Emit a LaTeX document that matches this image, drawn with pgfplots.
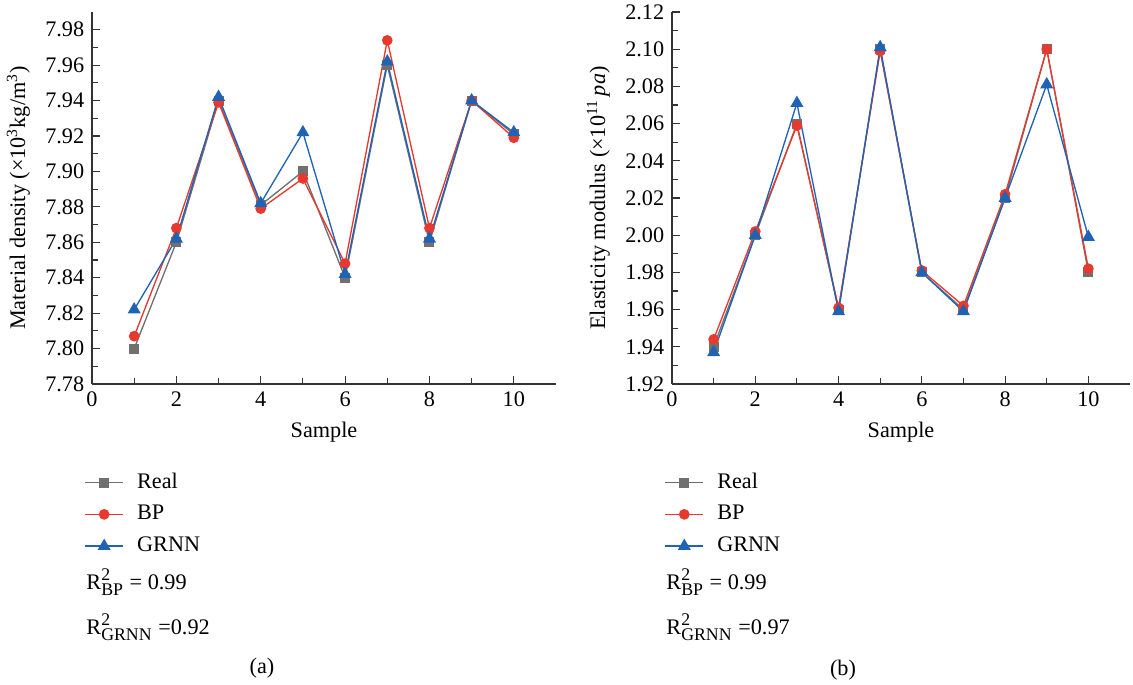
\documentclass[border=0pt]{standalone}
\usepackage{fontspec}
\setmainfont{Liberation Serif}
\usepackage{pgfplots}
\pgfplotsset{compat=1.18}

\definecolor{realc}{HTML}{707070}
\definecolor{bpc}{HTML}{E8392F}
\definecolor{grnnc}{HTML}{1F63B5}

\newlength\pu
\setlength\pu{0.45pt}

\newcommand{\rsq}[1]{$\mbox{R}^{\mbox{\footnotesize 2}}_{\mbox{\footnotesize #1}}$}

\pgfplotsset{
  panel/.style={
    scale only axis, height=167.4pt,
    xmin=0, xmax=11, xtick={0,2,4,6,8,10}, minor x tick num=1, minor y tick num=1,
    axis x line*=bottom, axis y line*=left,
    axis line style={-, black!80, line width=0.6pt},
    tick align=inside, major tick length=3.5pt, minor tick length=2.5pt,
    tick style={black!80, line width=0.5pt},
    /pgf/number format/assume math mode=true,
    yticklabel style={/pgf/number format/.cd, fixed, fixed zerofill, precision=2},
    xlabel=Sample,
    legend cell align=left,
    legend style={draw=none, fill=none, inner sep=0pt, anchor=north west,
      at={(-0.017,-0.225)}, row sep=1.3pt, column sep=4pt,
      nodes={text height=7pt, text depth=2pt}},
  },
  realp/.style={color=realc, line width=0.6pt, mark=square*, mark size=1.95pt},
  bpp/.style={color=bpc, line width=0.6pt, mark=*, mark size=2.1pt},
  grnnp/.style={color=grnnc, line width=0.6pt, mark=triangle*, mark size=2.8pt},
}

\begin{document}
\begin{tikzpicture}
\path[use as bounding box] (0,0) rectangle ({1133*\pu},{684*\pu});

% (a) material density
\begin{axis}[panel, width={464*\pu},
  at={({92*\pu},{(684-384)*\pu})}, anchor=south west,
  ymin=7.78, ymax=7.99,
  ytick={7.78,7.80,7.82,7.84,7.86,7.88,7.90,7.92,7.94,7.96,7.98},
  ylabel={Material density (×10\textsuperscript{3}kg/m\textsuperscript{3})}]
\addplot[realp] coordinates {(1,7.800) (2,7.860) (3,7.940) (4,7.881) (5,7.900) (6,7.840) (7,7.960) (8,7.860) (9,7.940) (10,7.921)};
\addlegendentry{Real}
\addplot[bpp] coordinates {(1,7.807) (2,7.868) (3,7.939) (4,7.879) (5,7.896) (6,7.848) (7,7.974) (8,7.868) (9,7.940) (10,7.919)};
\addlegendentry{BP}
\addplot[grnnp] coordinates {(1,7.822) (2,7.862) (3,7.942) (4,7.882) (5,7.922) (6,7.842) (7,7.962) (8,7.862) (9,7.940) (10,7.922)};
\addlegendentry{GRNN}
\end{axis}

% (b) elasticity modulus
\begin{axis}[panel, width={458*\pu},
  at={({672*\pu},{(684-384)*\pu})}, anchor=south west,
  ymin=1.92, ymax=2.12,
  ytick={1.92,1.94,1.96,1.98,2.00,2.02,2.04,2.06,2.08,2.10,2.12},
  ylabel={Elasticity modulus (×10\textsuperscript{11}\,\textit{pa})}]
\addplot[realp] coordinates {(1,1.940) (2,2.000) (3,2.060) (4,1.960) (5,2.100) (6,1.980) (7,1.960) (8,2.020) (9,2.100) (10,1.980)};
\addlegendentry{Real}
\addplot[bpp] coordinates {(1,1.944) (2,2.002) (3,2.059) (4,1.961) (5,2.099) (6,1.981) (7,1.962) (8,2.022) (9,2.100) (10,1.982)};
\addlegendentry{BP}
\addplot[grnnp] coordinates {(1,1.937) (2,2.000) (3,2.071) (4,1.959) (5,2.101) (6,1.980) (7,1.959) (8,2.020) (9,2.081) (10,1.999)};
\addlegendentry{GRNN}
\end{axis}

\node[anchor=west, inner sep=0pt] at ({86*\pu},{(684-582)*\pu}) {\rsq{BP} = 0.99};
\node[anchor=west, inner sep=0pt] at ({86*\pu},{(684-627)*\pu}) {\rsq{GRNN} =0.92};
\node[anchor=west, inner sep=0pt] at ({666*\pu},{(684-582)*\pu}) {\rsq{BP} = 0.99};
\node[anchor=west, inner sep=0pt] at ({666*\pu},{(684-627)*\pu}) {\rsq{GRNN} =0.97};
\node at ({262*\pu},{(684-668)*\pu}) {(a)};
\node at ({843*\pu},{(684-670)*\pu}) {(b)};
\end{tikzpicture}
\end{document}
